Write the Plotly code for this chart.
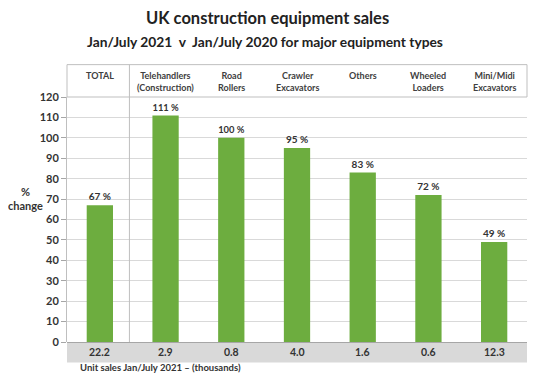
import plotly.graph_objects as go

categories = ["TOTAL", "Telehandlers<br>(Construction)", "Road<br>Rollers", "Crawler<br>Excavators",
              "Others", "Wheeled<br>Loaders", "Mini/Midi<br>Excavators"]
pct_change = [67, 111, 100, 95, 83, 72, 49]
unit_sales = ["22.2", "2.9", "0.8", "4.0", "1.6", "0.6", "12.3"]
y_ticks = list(range(0, 121, 10))

FONT = "Lato"
DARK = "#333333"
GREEN = "#6DAD3F"
GRID = "#d9d9d9"
BORDER = "#bfbfbf"

# page is rendered with an 8px body margin; work in page pixels and convert
OFF = 8
W, H = 550 - OFF, 376 - OFF
PL, PR, PT, PB = 67, 527, 96.5, 342.5   # plot area in page pixels
L, R, T, B = PL - OFF, W - (PR - OFF), PT - OFF, H - (PB - OFF)
ph = H - T - B
pw = W - L - R

def py(px):
    return (PB - px) / ph

def pxx(px):
    return (px - PL) / pw

xs = list(range(len(categories)))

fig = go.Figure()
fig.add_trace(go.Bar(
    x=xs, y=pct_change, width=0.4, marker=dict(color=GREEN, line=dict(width=0)),
    text=[f"{v} %" for v in pct_change], textposition="outside", cliponaxis=False,
    textfont=dict(family=FONT, size=10, color=DARK, weight="bold"),
    hoverinfo="skip",
))

shapes = []
shapes.append(dict(type="rect", xref="paper", yref="paper", x0=0, x1=1, y0=1, y1=py(64),
                   line=dict(color=BORDER, width=1), fillcolor="rgba(0,0,0,0)", layer="below"))
shapes.append(dict(type="line", xref="x", yref="paper", x0=0.45, x1=0.45, y0=0, y1=py(64),
                   line=dict(color=BORDER, width=1)))
shapes.append(dict(type="rect", xref="paper", yref="paper", x0=0, x1=1, y0=py(363), y1=0,
                   line=dict(width=0), fillcolor="#d9d9d9", layer="below"))

annotations = []
for i, c in enumerate(categories):
    annotations.append(dict(x=i, y=py(67), xref="x", yref="paper", text=c, showarrow=False,
                            xanchor="center", yanchor="top", align="center",
                            font=dict(family=FONT, size=9, color="#404040", weight="bold")))
for i, v in enumerate(unit_sales):
    annotations.append(dict(x=i, y=py(353), xref="x", yref="paper", text=v, showarrow=False,
                            xanchor="center", yanchor="middle",
                            font=dict(family=FONT, size=10.5, color=DARK, weight="bold")))
annotations.append(dict(x=pxx(267), y=py(17), xref="paper", yref="paper",
                        text="UK construction equipment sales", showarrow=False,
                        xanchor="center", yanchor="middle",
                        font=dict(family=FONT, size=16.5, color="#222222", weight="bold")))
annotations.append(dict(x=pxx(265), y=py(41), xref="paper", yref="paper",
                        text="Jan/July 2021  v  Jan/July 2020 for major equipment types", showarrow=False,
                        xanchor="center", yanchor="middle",
                        font=dict(family=FONT, size=13.8, color="#222222", weight="bold")))
annotations.append(dict(x=pxx(25), y=py(198), xref="paper", yref="paper",
                        text="%<br>change", showarrow=False, xanchor="center", yanchor="middle",
                        font=dict(family=FONT, size=11, color=DARK, weight="bold")))
annotations.append(dict(x=pxx(160), y=py(368), xref="paper", yref="paper",
                        text="Unit sales Jan/July 2021 \u2013 (thousands)", showarrow=False,
                        xanchor="center", yanchor="middle",
                        font=dict(family=FONT, size=9.5, color=DARK, weight="bold")))

fig.update_layout(
    width=W, height=H, margin=dict(l=L, r=R, t=T, b=B),
    paper_bgcolor="white", plot_bgcolor="white",
    showlegend=False, shapes=shapes, annotations=annotations,
    xaxis=dict(range=[-0.5, len(categories) - 0.5], showticklabels=False, showgrid=False,
               zeroline=False, showline=False, ticks=""),
    yaxis=dict(range=[0, 120], tickvals=y_ticks, showgrid=True, gridcolor=GRID, gridwidth=1,
               zeroline=True, zerolinecolor="#a6a6a6", zerolinewidth=1,
               showline=True, linecolor=BORDER, linewidth=1,
               ticks="outside", ticklen=5, tickcolor="#a6a6a6",
               tickfont=dict(family=FONT, size=11, color=DARK, weight="bold")),
    bargap=0.6,
)

fig.write_html("out.html")
